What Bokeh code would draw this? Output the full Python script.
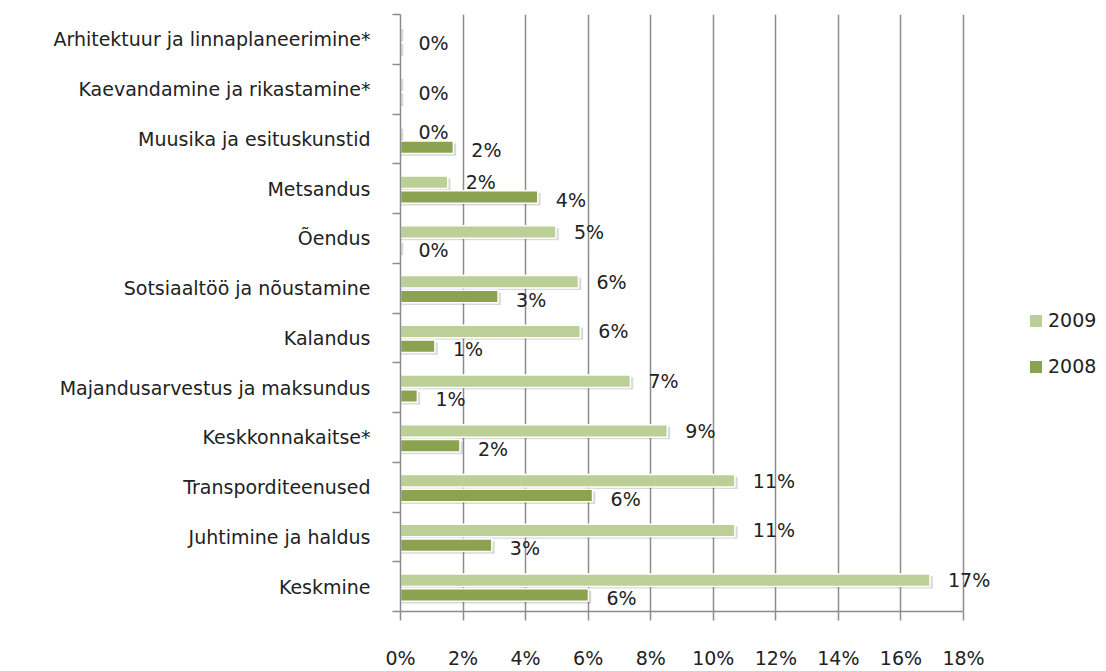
from bokeh.plotting import figure
from bokeh.models import Range1d, FixedTicker, PrintfTickFormatter, ColumnDataSource, Legend, LegendItem
from bokeh.core.properties import value
from bokeh.transform import dodge
from bokeh.embed import file_html
from bokeh.resources import INLINE

categories = [
    "Arhitektuur ja linnaplaneerimine*",
    "Kaevandamine ja rikastamine*",
    "Muusika ja esituskunstid",
    "Metsandus",
    "Õendus",
    "Sotsiaaltöö ja nõustamine",
    "Kalandus",
    "Majandusarvestus ja maksundus",
    "Keskkonnakaitse*",
    "Transporditeenused",
    "Juhtimine ja haldus",
    "Keskmine",
]
v2009 = [0, 0, 0, 1.51, 4.97, 5.69, 5.75, 7.35, 8.53, 10.69, 10.69, 16.93]
v2008 = [0, 0, 1.69, 4.39, 0, 3.12, 1.10, 0.54, 1.90, 6.14, 2.92, 6.01]
x_ticks = [0, 2, 4, 6, 8, 10, 12, 14, 16, 18]
x_axis_max = 18

C2009 = "#BBCF96"
C2008 = "#8BA350"
FONT = "DejaVu Sans"
FS = "19px"
TXT = "#222222"
GRID = "#8c8c8c"

n = len(categories)
yc = [i + 0.5 for i in range(n)]
off09, off08, bh = -0.13, 0.17, 0.25

both_zero = [a == 0 and b == 0 for a, b in zip(v2009, v2008)]

src09 = ColumnDataSource(dict(
    y=[c + off09 for c in yc], v=v2009,
    lbl=["" if z else f"{round(v)}%" for v, z in zip(v2009, both_zero)]))
src08 = ColumnDataSource(dict(
    y=[c + off08 for c in yc], v=v2008,
    lbl=["" if z else f"{round(v)}%" for v, z in zip(v2008, both_zero)]))
srcz = ColumnDataSource(dict(
    y=[c for c, z in zip(yc, both_zero) if z],
    v=[0 for z in both_zero if z],
    lbl=["0%" for z in both_zero if z]))

W, H = 1106, 671
LEFT, RIGHT_PAD = 400, 6
axis_px = 563  # pixel length of the 0..18% axis
frame_w = W - LEFT - RIGHT_PAD
x_end = x_axis_max * frame_w / axis_px

p = figure(width=W, height=H, output_backend="svg", toolbar_location=None,
           x_range=Range1d(0, x_end), y_range=Range1d(n, 0),
           min_border_left=LEFT, min_border_right=RIGHT_PAD, min_border_top=14, min_border_bottom=53)
p.outline_line_color = None
p.background_fill_color = "white"
p.border_fill_color = "white"

# grid
p.ygrid.grid_line_color = None
p.xgrid.ticker = FixedTicker(ticks=x_ticks)
p.xgrid.grid_line_color = GRID
p.xgrid.grid_line_width = 1.5

# x axis
xa = p.xaxis[0]
xa.bounds = (0, x_axis_max)
xa.ticker = FixedTicker(ticks=x_ticks)
xa.formatter = PrintfTickFormatter(format="%d%%")
xa.axis_line_color = GRID
xa.axis_line_width = 1.5
xa.major_tick_line_color = GRID
xa.major_tick_line_width = 1.5
xa.major_tick_out = 9
xa.major_tick_in = 0
xa.minor_tick_line_color = None
xa.major_label_text_font = FONT
xa.major_label_text_font_size = FS
xa.major_label_text_color = TXT
xa.major_label_standoff = 26

# y axis
ya = p.yaxis[0]
ya.ticker = FixedTicker(ticks=yc, minor_ticks=list(range(n + 1)))
ya.major_label_overrides = {c: name for c, name in zip(yc, categories)}
ya.axis_line_color = GRID
ya.axis_line_width = 1.5
ya.major_tick_out = 0
ya.major_tick_in = 0
ya.major_tick_line_color = None
ya.minor_tick_line_color = GRID
ya.minor_tick_line_width = 1.5
ya.minor_tick_out = 8
ya.minor_tick_in = 0
ya.major_label_text_font = FONT
ya.major_label_text_font_size = FS
ya.major_label_text_color = TXT
ya.major_label_standoff = 22

# soft drop shadows
for src in (src09, src08):
    p.hbar(y=dodge("y", 0.045, range=p.y_range), left=0, right=dodge("v", 0.09, range=p.x_range),
           height=bh, source=src, fill_color="#000000", fill_alpha=0.15, line_color=None)

r09 = p.hbar(y="y", left=0, right="v", height=bh, source=src09,
             fill_color=C2009, line_color="white", line_width=1.5)
r08 = p.hbar(y="y", left=0, right="v", height=bh, source=src08,
             fill_color=C2008, line_color="white", line_width=1.5)

for src, dy in ((src09, 0), (src08, 3), (srcz, 4)):
    p.text(x="v", y="y", text="lbl", source=src, x_offset=18, y_offset=dy,
           text_baseline="middle", text_align="left",
           text_font=value(FONT), text_font_size=FS, text_color=TXT)

legend = Legend(items=[LegendItem(label="2009", renderers=[r09]),
                       LegendItem(label="2008", renderers=[r08])],
                location=(627, 234), orientation="vertical",
                background_fill_alpha=0, border_line_color=None,
                glyph_width=17, glyph_height=17, label_height=20, spacing=24,
                padding=0, margin=0, label_standoff=4,
                label_text_font=FONT, label_text_font_size=FS, label_text_color=TXT)
p.add_layout(legend, "center")

open("out.html", "w").write(file_html(p, INLINE))
